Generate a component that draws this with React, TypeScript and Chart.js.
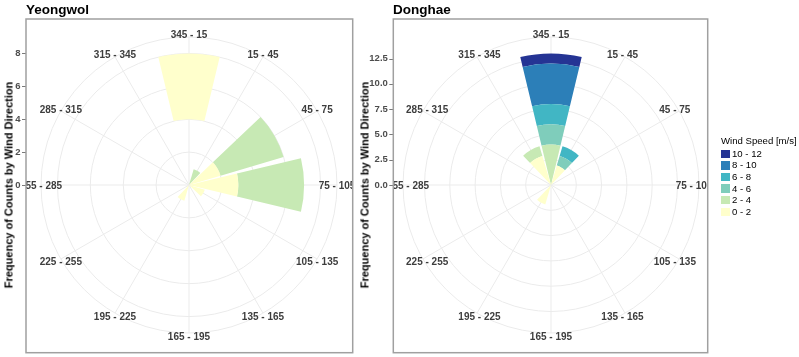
import React, { useEffect, useRef } from 'react';
import { Chart, registerables, PolarAreaController } from 'chart.js';

Chart.register(...registerables);

// ---------- data ----------
const directionLabels = [
  '345 - 15', '15 - 45', '45 - 75', '75 - 105', '105 - 135', '135 - 165',
  '165 - 195', '195 - 225', '225 - 255', '255 - 285', '285 - 315', '315 - 345',
];
const speedClasses = ['0 - 2', '2 - 4', '4 - 6', '6 - 8', '8 - 10', '10 - 12'];
const speedColors = ['#ffffcc', '#c7e9b4', '#7fcdbb', '#41b6c4', '#2c7fb8', '#253494'];

// Yeongwol counts per direction (bottom-most segment has no speed class / no fill)
const yeongwolUnclassified = [4, 0, 0, 0, 0, 0, 0, 0, 0, 0, 0, 0];
const yeongwol_0_2 = [4, 0, 2, 3, 1, 0, 0, 1, 0, 0, 0, 0];
const yeongwol_2_4 = [0, 1, 4, 4, 0, 0, 0, 0, 0, 0, 0, 0];
const yeongwol_4_6 = [0, 0, 0, 0, 0, 0, 0, 0, 0, 0, 0, 0];
const yeongwol_6_8 = [0, 0, 0, 0, 0, 0, 0, 0, 0, 0, 0, 0];
const yeongwol_8_10 = [0, 0, 0, 0, 0, 0, 0, 0, 0, 0, 0, 0];
const yeongwol_10_12 = [0, 0, 0, 0, 0, 0, 0, 0, 0, 0, 0, 0];

// Donghae counts per direction
const donghaeUnclassified = [0, 0, 0, 0, 0, 0, 0, 0, 0, 0, 0, 0];
const donghae_0_2 = [0, 2, 0, 0, 0, 0, 0, 2, 0, 0, 0, 3];
const donghae_2_4 = [4, 0, 0, 0, 0, 0, 0, 0, 0, 0, 0, 1];
const donghae_4_6 = [2, 1, 0, 0, 0, 0, 0, 0, 0, 0, 0, 0];
const donghae_6_8 = [2, 1, 0, 0, 0, 0, 0, 0, 0, 0, 0, 0];
const donghae_8_10 = [4, 0, 0, 0, 0, 0, 0, 0, 0, 0, 0, 0];
const donghae_10_12 = [1, 0, 0, 0, 0, 0, 0, 0, 0, 0, 0, 0];

// radial axes
const yeongwolTickValues = [0, 2, 4, 6, 8];
const yeongwolTickLabels = ['0', '2', '4', '6', '8'];
const yeongwolRadialMax = 9;
const donghaeTickValues = [0, 2.5, 5, 7.5, 10, 12.5];
const donghaeTickLabels = ['0.0', '2.5', '5.0', '7.5', '10.0', '12.5'];
const donghaeRadialMax = 14.625;

const FONT = '"Liberation Sans", Arial, Helvetica, sans-serif';

// ---------- stacked polar controller ----------
class StackedPolarController extends (PolarAreaController as any) {
  static id = 'stackedPolar';
  updateElements(arcs: any[], start: number, count: number, mode: any) {
    const self: any = this;
    const chart: any = self.chart;
    const scale = self._cachedMeta.rScale;
    const datasets = chart.data.datasets;
    const n = chart.data.labels.length;
    const step = (2 * Math.PI) / n;
    const half = step * 0.45;
    for (let i = start; i < start + count; i++) {
      let below = 0;
      for (let d = 0; d < self.index; d++) below += Number(datasets[d].data[i]) || 0;
      const value = Number(datasets[self.index].data[i]) || 0;
      const mid = scale.getIndexAngle(i) - Math.PI / 2;
      const inner = scale.getDistanceFromCenterForValue(below);
      const outer = value > 0 ? scale.getDistanceFromCenterForValue(below + value) : inner;
      const options = self.resolveDataElementOptions(i, arcs[i].active ? 'active' : mode);
      self.updateElement(arcs[i], i, {
        x: scale.xCenter,
        y: scale.yCenter,
        innerRadius: inner,
        outerRadius: outer,
        startAngle: mid - half,
        endAngle: mid + half,
        circumference: 2 * half,
        options,
      }, mode);
    }
  }
}
Chart.register(StackedPolarController as any);

type Panel = { x: number; y: number; w: number; h: number };

function makeDecor(panel: Panel, tickValues: number[], tickLabels: string[], labelRx: number, labelRy: number) {
  return {
    id: 'roseDecor',
    afterDraw(chart: any) {
      const ctx = chart.ctx;
      const s = chart.scales.r;
      ctx.save();
      ctx.beginPath();
      ctx.rect(panel.x, panel.y, panel.w, panel.h);
      ctx.clip();
      ctx.font = `bold 10px ${FONT}`;
      ctx.fillStyle = '#3d3d3d';
      ctx.textAlign = 'center';
      ctx.textBaseline = 'middle';
      chart.data.labels.forEach((lab: string, i: number) => {
        const a = s.getIndexAngle(i);
        const x = s.xCenter + labelRx * Math.sin(a);
        const y = s.yCenter - labelRy * Math.cos(a) + 1.3;
        ctx.fillText(lab, x, y);
      });
      ctx.restore();

      ctx.save();
      ctx.font = `bold 9.5px ${FONT}`;
      ctx.fillStyle = '#4d4d4d';
      ctx.strokeStyle = '#7a7a7a';
      ctx.lineWidth = 1;
      ctx.textAlign = 'right';
      ctx.textBaseline = 'middle';
      tickValues.forEach((v, k) => {
        const y = s.yCenter - s.getDistanceFromCenterForValue(v);
        ctx.fillText(tickLabels[k], panel.x - 5.5, y);
        ctx.beginPath();
        ctx.moveTo(panel.x - 4, Math.round(y) + 0.5);
        ctx.lineTo(panel.x, Math.round(y) + 0.5);
        ctx.stroke();
      });
      ctx.strokeStyle = '#a0a0a0';
      ctx.lineWidth = 1.5;
      ctx.strokeRect(panel.x, panel.y, panel.w, panel.h);
      ctx.restore();
    },
  };
}

type RoseProps = {
  left: number;
  width: number;
  height: number;
  padding: { left: number; right: number; top: number; bottom: number };
  panel: Panel;
  series: number[][];
  radialMax: number;
  stepSize: number;
  tickValues: number[];
  tickLabels: string[];
  labelRx: number;
  labelRy: number;
};

function Rose(props: RoseProps) {
  const ref = useRef<HTMLCanvasElement | null>(null);
  useEffect(() => {
    if (!ref.current) return;
    const colors = ['rgba(0,0,0,0)', ...speedColors];
    const names = ['', ...speedClasses];
    const chart = new Chart(ref.current, {
      type: 'stackedPolar' as any,
      data: {
        labels: directionLabels,
        datasets: props.series.map((data, k) => ({
          label: names[k],
          data,
          backgroundColor: colors[k],
          borderWidth: 0,
        })),
      },
      options: {
        responsive: false,
        animation: false,
        events: [],
        layout: { padding: props.padding },
        plugins: {
          legend: { display: false },
          tooltip: { enabled: false },
          title: { display: false },
        },
        scales: {
          r: {
            type: 'radialLinear',
            min: 0,
            max: props.radialMax,
            startAngle: 0,
            beginAtZero: true,
            ticks: { display: false, stepSize: props.stepSize },
            grid: { circular: true, color: '#ebebeb', lineWidth: 1 },
            angleLines: { display: true, color: '#ebebeb', lineWidth: 1 },
            pointLabels: { display: false },
          },
        },
      } as any,
      plugins: [makeDecor(props.panel, props.tickValues, props.tickLabels, props.labelRx, props.labelRy)],
    });
    return () => chart.destroy();
  }, []);
  return (
    <canvas
      ref={ref}
      width={props.width}
      height={props.height}
      style={{ position: 'absolute', left: props.left, top: 0, width: props.width, height: props.height }}
    />
  );
}

const titleStyle: React.CSSProperties = {
  position: 'absolute',
  top: 2.5,
  fontFamily: FONT,
  fontWeight: 'bold',
  fontSize: 13.5,
  lineHeight: '13.5px',
  color: '#000',
  whiteSpace: 'nowrap',
};

const yTitleStyle: React.CSSProperties = {
  position: 'absolute',
  top: 185,
  fontFamily: FONT,
  fontWeight: 'bold',
  fontSize: 11,
  lineHeight: '11px',
  color: '#000',
  whiteSpace: 'nowrap',
  transform: 'translate(-50%, -50%) rotate(-90deg)',
};

export default function App() {
  const legendRows = speedClasses.map((c, i) => ({ label: c, color: speedColors[i] })).reverse();
  return (
    <div style={{ position: 'absolute', left: 0, top: 0, width: 799, height: 357, background: '#fff', overflow: 'hidden' }}>
      <Rose
        left={0}
        width={380}
        height={357}
        padding={{ left: 41, right: 42, top: 37, bottom: 23 }}
        panel={{ x: 26, y: 19, w: 326.7, h: 333.7 }}
        series={[yeongwolUnclassified, yeongwol_0_2, yeongwol_2_4, yeongwol_4_6, yeongwol_6_8, yeongwol_8_10, yeongwol_10_12]}
        radialMax={yeongwolRadialMax}
        stepSize={2}
        tickValues={yeongwolTickValues}
        tickLabels={yeongwolTickLabels}
        labelRx={148}
        labelRy={151.3}
      />
      <Rose
        left={340}
        width={459}
        height={357}
        padding={{ left: 62.5, right: 99.5, top: 37, bottom: 23 }}
        panel={{ x: 53.3, y: 19, w: 314.4, h: 333.7 }}
        series={[donghaeUnclassified, donghae_0_2, donghae_2_4, donghae_4_6, donghae_6_8, donghae_8_10, donghae_10_12]}
        radialMax={donghaeRadialMax}
        stepSize={2.5}
        tickValues={donghaeTickValues}
        tickLabels={donghaeTickLabels}
        labelRx={143}
        labelRy={151.3}
      />
      <div style={{ ...titleStyle, left: 26 }}>Yeongwol</div>
      <div style={{ ...titleStyle, left: 393 }}>Donghae</div>
      <div style={{ ...yTitleStyle, left: 9 }}>Frequency of Counts by Wind Direction</div>
      <div style={{ ...yTitleStyle, left: 364.5 }}>Frequency of Counts by Wind Direction</div>
      <div style={{ position: 'absolute', left: 721, top: 135, fontFamily: FONT, fontSize: 9.6, color: '#000' }}>
        <div style={{ lineHeight: '12px', marginBottom: 1, whiteSpace: 'nowrap' }}>Wind Speed [m/s]</div>
        {legendRows.map((r) => (
          <div key={r.label} style={{ display: 'flex', alignItems: 'center', height: 11.6 }}>
            <div style={{ width: 8.5, height: 8.5, background: r.color, marginRight: 2.5 }} />
            <span style={{ lineHeight: '10px', whiteSpace: 'nowrap' }}>{r.label}</span>
          </div>
        ))}
      </div>
    </div>
  );
}
